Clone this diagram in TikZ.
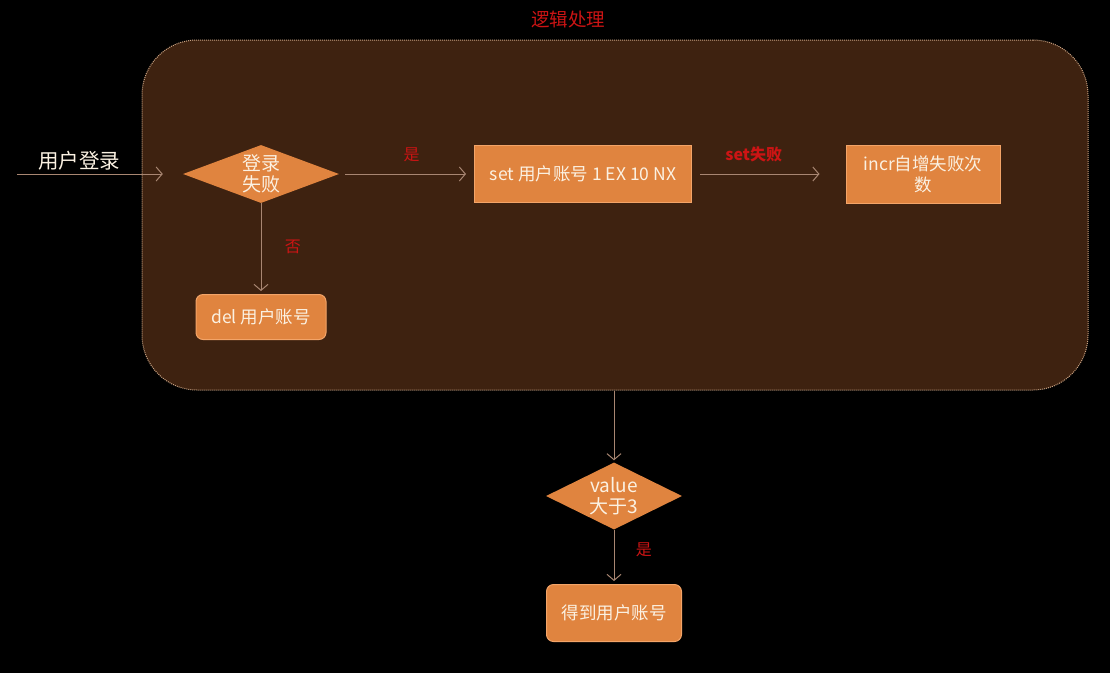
\documentclass[tikz,border=0pt]{standalone}
\usepackage{fontspec}
\setmainfont{Noto Sans CJK SC}
\usetikzlibrary{arrows.meta,shapes.geometric,calc}
\definecolor{bgbrown}{HTML}{3E2210}
\definecolor{dotline}{HTML}{C9A282}
\definecolor{boxorange}{HTML}{E0843F}
\definecolor{boxedge}{HTML}{F3A468}
\definecolor{cream}{HTML}{FBF1E2}
\definecolor{labred}{HTML}{CC1414}
\definecolor{flowline}{HTML}{A88672}
\tikzset{
  flowbox/.style={rectangle,fill=boxorange,draw=boxedge,line width=1pt,text=cream,
    inner sep=0pt,align=center,font=\fontsize{17.5}{21}\selectfont},
  roundbox/.style={flowbox,rounded corners=7pt},
  decide/.style={diamond,fill=boxorange,draw=none,text=cream,inner sep=0pt,
    align=center,font=\fontsize{19}{21}\selectfont},
  flow/.style={draw=flowline,line width=1pt,-{Straight Barb[length=6pt,width=14pt]}},
  redlab/.style={text=labred,font=\fontsize{16}{18}\selectfont},
}
\begin{document}
\begin{tikzpicture}[x=1pt,y=-1pt]
      \fill[black] (0,0) rectangle (1110,673);
      \useasboundingbox (0,0) rectangle (1110,673);

      \node[rectangle,rounded corners=55pt,fill=bgbrown,draw=dotline,densely dotted,line width=1pt,
        minimum width=946pt,minimum height=350pt] (logic) at (615,215) {};
      \node[text=labred,font=\fontsize{18.5}{20}\selectfont] (title) at (568,19) {逻辑处理};

      \node[text=cream,font=\fontsize{20.5}{22}\selectfont] (user) at (79,161) {用户登录};
      \coordinate (start) at (17,174);

      \node[decide,aspect=2.7,minimum width=156pt,minimum height=58pt] (fail) at (261,174) {登录\\失败};
      \node[flowbox,minimum width=217pt,minimum height=57pt] (setnx) at (583,174) {set 用户账号 1 EX 10 NX};
      \node[flowbox,minimum width=154pt,minimum height=58pt] (incr) at (923,174) {incr自增失败次\\数};
      \node[roundbox,minimum width=130pt,minimum height=45pt] (del) at (261,317) {del 用户账号};

      \node[decide,aspect=2,minimum width=136pt,minimum height=67pt] (value) at (614,496) {value\\大于3};
      \node[roundbox,minimum width=135pt,minimum height=57pt] (get) at (614,613) {得到用户账号};

      \draw[flow] (start) -- ($(fail.west)+(-20,0)$);
      \draw[flow] ($(fail.east)+(6,0)$) -- node[redlab,above=8pt,pos=0.55] {是} ($(setnx.west)+(-8,0)$);
      \draw[flow] ($(setnx.east)+(8,0)$) -- node[redlab,above=8pt,pos=0.45,font=\fontsize{16}{18}\selectfont\bfseries] {set失败} ($(incr.west)+(-26,0)$);
      \draw[flow] (fail.south) -- node[redlab,right=20pt,pos=0.5] {否} ($(del.north)+(0,-3)$);
      \draw[flow] (logic.south -| value.north) -- ($(value.north)+(0,-2)$);
      \draw[flow] (value.south) -- node[redlab,right=18pt,pos=0.4] {是} ($(get.north)+(0,-3)$);
\end{tikzpicture}
\end{document}
